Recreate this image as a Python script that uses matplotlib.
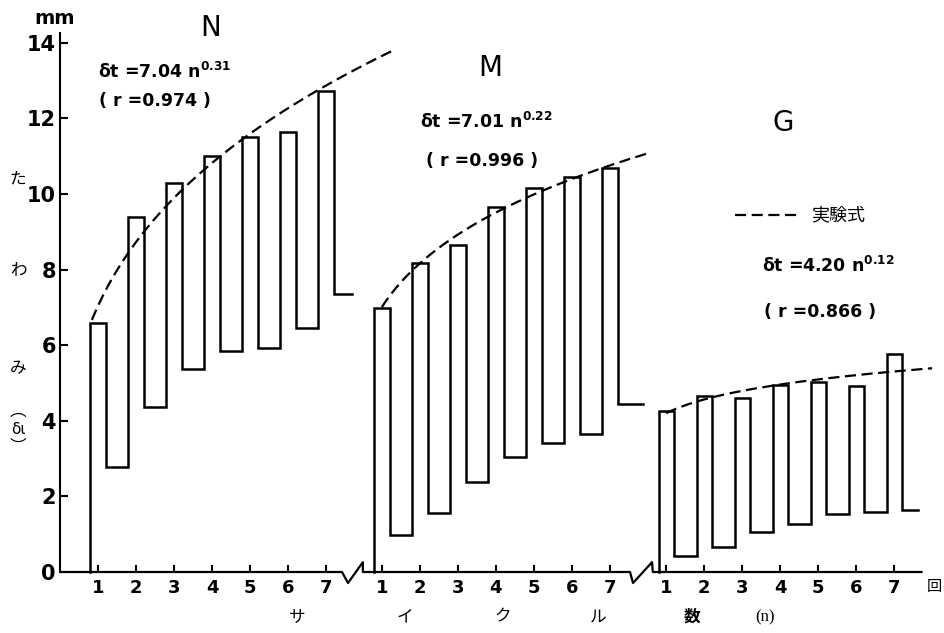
import matplotlib
matplotlib.use("Agg")
import matplotlib.pyplot as plt
import numpy as np

# ---- data ----
cycles = [1, 2, 3, 4, 5, 6, 7]
panels = ["N", "M", "G"]
n_peaks = [6.6, 9.38, 10.3, 11.0, 11.5, 11.65, 12.73]
n_troughs = [2.78, 4.36, 5.37, 5.85, 5.92, 6.45, 7.35]
m_peaks = [6.98, 8.17, 8.65, 9.66, 10.16, 10.45, 10.69]
m_troughs = [0.98, 1.56, 2.38, 3.04, 3.41, 3.65, 4.44]
g_peaks = [4.26, 4.66, 4.61, 4.95, 5.02, 4.92, 5.77]
g_troughs = [0.42, 0.66, 1.06, 1.27, 1.53, 1.59, 1.64]
coefs = [7.04, 7.01, 4.20]
expos = [0.31, 0.22, 0.12]
r_vals = ["0.974", "0.996", "0.866"]
y_ticks = [0, 2, 4, 6, 8, 10, 12, 14]
x_labels = ["サ", "イ", "ク", "ル", "数"]

# ---- layout / style ----
W, H = 944, 633
offsets = [0.0, 7.47, 14.95]
RISE, FALL = 0.2, 0.22
ends = [0.68, 0.87, 0.63]
curve_ranges = [(0.84, 8.74), (1.0, 8.05), (1.0, 8.0)]
LW = 1.8

fig = plt.figure(figsize=(W / 100, H / 100), dpi=100)
XMAX, YMAX = 22.7, 14.25
ax = fig.add_axes([60 / W, 61 / H, XMAX * 38 / W, YMAX * 37.8 / H])
ax.set_xlim(0, XMAX)
ax.set_ylim(0, YMAX)
for s in ["top", "right", "bottom"]:
    ax.spines[s].set_visible(False)
ax.spines["left"].set_linewidth(1.5)

ax.set_yticks(y_ticks)
ax.set_yticklabels([str(v) for v in y_ticks], fontsize=15, fontweight="bold")
xt = [off + n for off in offsets for n in cycles]
ax.set_xticks(xt)
ax.set_xticklabels([str(n) for off in offsets for n in cycles], fontsize=13, fontweight="bold")
ax.tick_params(axis="y", direction="in", length=6, width=1.5, pad=3)
ax.tick_params(axis="x", direction="in", length=5, width=1.5, pad=5)

# broken x axis
brk = dict(color="black", lw=1.6, clip_on=False, solid_capstyle="butt")
ax.plot([0, 7.42, 7.58, 7.97, 7.97, 15.0, 15.08, 15.58, 15.6, XMAX],
        [0, 0, -0.29, 0.26, 0, 0, -0.29, 0.26, 0, 0], **brk)

def trace(off, peaks, troughs, end):
    xs = [off + cycles[0] - RISE]
    ys = [0]
    for i, n in enumerate(cycles):
        x0 = off + n - RISE
        x1 = off + n + FALL
        xs += [x0, x1, x1]
        ys += [peaks[i], peaks[i], troughs[i]]
        nxt = off + cycles[i + 1] - RISE if i < len(cycles) - 1 else off + n + end
        xs.append(nxt)
        ys.append(troughs[i])
    return xs, ys

data = [(n_peaks, n_troughs), (m_peaks, m_troughs), (g_peaks, g_troughs)]
for k, (pk, tr) in enumerate(data):
    xs, ys = trace(offsets[k], pk, tr, ends[k])
    ax.plot(xs, ys, color="black", lw=LW, solid_joinstyle="miter", clip_on=False, zorder=3)
    n0, n1 = curve_ranges[k]
    nn = np.linspace(n0, n1, 300)
    ax.plot(offsets[k] + nn, coefs[k] * nn ** expos[k], color="black", lw=1.6,
            dashes=(5, 2.5), clip_on=False, zorder=4)

def ft(x, y, s, **kw):
    fig.text(x / W, 1 - y / H, s, ha="center", va="center", **kw)

# panel titles
title_pos = [(211, 28), (490, 68), (783, 123)]
for k, p in enumerate(panels):
    ft(*title_pos[k], p, fontsize=20)

eq_pos = [(165, 72), (486, 122), (828, 266)]
r_pos = [(155, 101), (482, 161), (820, 312)]
for k in range(3):
    ft(*eq_pos[k], r"$\mathbf{\delta}$t =" + f"{coefs[k]:.2f}" + r" n$^{\mathbf{" + f"{expos[k]:.2f}" + r"}}$",
       fontsize=12.5, fontweight="bold")
    ft(*r_pos[k], f"( r ={r_vals[k]} )", fontsize=12.5, fontweight="bold")

# legend
fig.add_artist(plt.Line2D([735 / W, 800 / W], [1 - 215 / H, 1 - 215 / H], color="black",
                          lw=1.6, dashes=(5, 2.5)))
jp = ["Noto Sans CJK JP", "DejaVu Sans"]
ft(838, 215, "実験式", fontsize=13, family=jp)

# axis labels
ft(55, 18, "mm", fontsize=14, fontweight="bold")
ft(18, 179, "た", fontsize=12, family=jp)
ft(18, 270, "わ", fontsize=12, family=jp)
ft(18, 369, "み", fontsize=12, family=jp)
ft(18, 411, "︵", fontsize=12, family=jp)
ft(18, 429, "δι", fontsize=11)
ft(18, 447, "︶", fontsize=12, family=jp)

xl_pos = [297, 405, 503, 598, 692]
for s, x in zip(x_labels, xl_pos):
    ft(x, 617, s, fontsize=12, family=jp, fontweight="bold" if s == "数" else "normal")
ft(765, 617, "(n)", fontsize=12, family=["Liberation Serif", "DejaVu Serif"])
ft(934, 587, "回", fontsize=11, family=jp)

fig.savefig("out.png", dpi=100)
